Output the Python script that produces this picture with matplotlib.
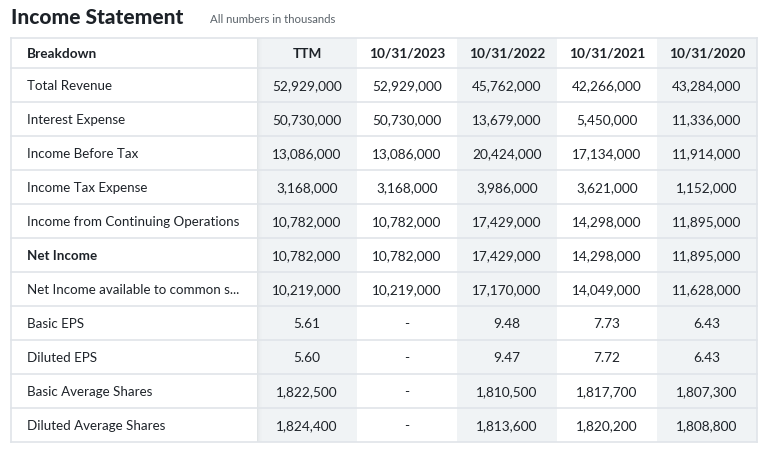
import matplotlib
matplotlib.use("Agg")
import matplotlib.pyplot as plt
from matplotlib.patches import Rectangle

title = "Income Statement"
subtitle = "All numbers in thousands"
columns = ["TTM", "10/31/2023", "10/31/2022", "10/31/2021", "10/31/2020"]
row_labels = [
    "Total Revenue", "Interest Expense", "Income Before Tax", "Income Tax Expense",
    "Income from Continuing Operations", "Net Income",
    "Net Income available to common s...", "Basic EPS", "Diluted EPS",
    "Basic Average Shares", "Diluted Average Shares",
]
bold_rows = ["Net Income"]
ttm = ["52,929,000", "50,730,000", "13,086,000", "3,168,000", "10,782,000", "10,782,000",
       "10,219,000", "5.61", "5.60", "1,822,500", "1,824,400"]
fy2023 = ["52,929,000", "50,730,000", "13,086,000", "3,168,000", "10,782,000", "10,782,000",
          "10,219,000", "-", "-", "-", "-"]
fy2022 = ["45,762,000", "13,679,000", "20,424,000", "3,986,000", "17,429,000", "17,429,000",
          "17,170,000", "9.48", "9.47", "1,810,500", "1,813,600"]
fy2021 = ["42,266,000", "5,450,000", "17,134,000", "3,621,000", "14,298,000", "14,298,000",
          "14,049,000", "7.73", "7.72", "1,817,700", "1,820,200"]
fy2020 = ["43,284,000", "11,336,000", "11,914,000", "1,152,000", "11,895,000", "11,895,000",
          "11,628,000", "6.43", "6.43", "1,807,300", "1,808,800"]
values = [ttm, fy2023, fy2022, fy2021, fy2020]

W, H = 769, 451
fig = plt.figure(figsize=(W / 100, H / 100), dpi=100)
ax = fig.add_axes([0, 0, 1, 1])
ax.set_xlim(0, W)
ax.set_ylim(H, 0)
ax.axis("off")

FONT = "Lato"
TXT = "#1d2228"
GRID = "#e0e4e9"
SHADE = "#f0f3f5"

left, label_w, col_w = 11, 246, 100
top, head_h, row_h = 38, 30, 34
right = left + label_w + col_w * len(columns)
bottom = top + head_h + row_h * len(row_labels)
dy = 1.0

# shaded columns
for j in range(len(columns)):
    x0 = left + label_w + j * col_w
    if j % 2 == 0:
        ax.add_patch(Rectangle((x0, top), col_w, bottom - top, facecolor=SHADE,
                               edgecolor="none", zorder=1))
# shadow to the left of first data column
x_sh = left + label_w
for k, a in enumerate([0.10, 0.06, 0.035, 0.02, 0.01]):
    ax.add_patch(Rectangle((x_sh + k, top), 1, bottom - top, facecolor="#5b636a",
                           alpha=a, edgecolor="none", zorder=2))

# horizontal lines
ys = [top, top + head_h] + [top + head_h + row_h * (i + 1) for i in range(len(row_labels))]
for y in ys:
    ax.plot([left, right], [y, y], color=GRID, lw=1.2, zorder=3)
ax.plot([left, left], [top, bottom], color=GRID, lw=1.2, zorder=3)
ax.plot([right, right], [top, bottom], color=GRID, lw=1.2, zorder=3)

# title
ax.text(left, 17, title, fontsize=15, fontweight="black", family=FONT, color=TXT,
        va="center", ha="left")
ax.text(210, 19.5, subtitle, fontsize=8.2, family=FONT, color="#5b636a",
        va="center", ha="left")

# header
hy = top + head_h / 2 + dy
ax.text(27, hy, "Breakdown", fontsize=9.8, fontweight="bold", family=FONT, color=TXT,
        va="center", ha="left", zorder=4)
for j, c in enumerate(columns):
    cx = left + label_w + j * col_w + col_w / 2
    ax.text(cx, hy, c, fontsize=9.8, fontweight="bold", family=FONT, color=TXT,
            va="center", ha="center", zorder=4)

# body
for i, lab in enumerate(row_labels):
    cy = top + head_h + row_h * i + row_h / 2 + dy
    ax.text(27, cy, lab, fontsize=9.6, family=FONT, color=TXT, va="center", ha="left",
            fontweight="bold" if lab in bold_rows else "normal", zorder=4)
    for j in range(len(columns)):
        cx = left + label_w + j * col_w + col_w / 2
        ax.text(cx, cy, values[j][i], fontsize=9.8, family=FONT, color=TXT,
                va="center", ha="center", zorder=4)

fig.savefig("out.png", dpi=100)
